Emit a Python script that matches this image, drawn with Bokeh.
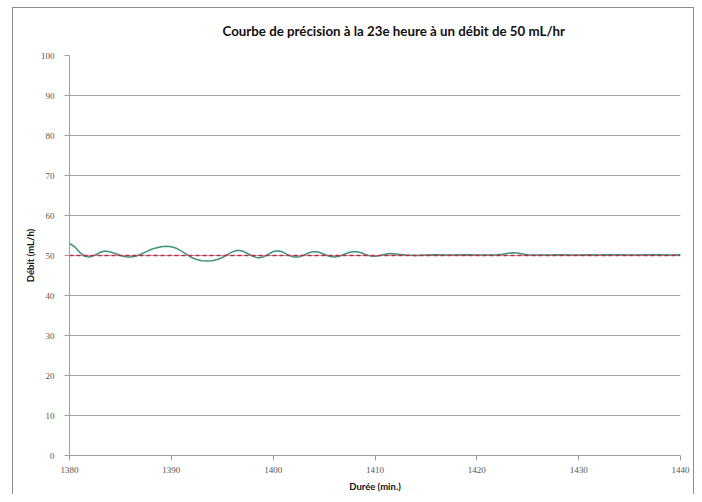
from bokeh.plotting import figure
from bokeh.models import Range1d, Title, FixedTicker, InlineStyleSheet
from bokeh.embed import file_html
from bokeh.resources import INLINE

# Data
minutes = [1380, 1380.5, 1381, 1381.5, 1382, 1382.5, 1383, 1383.5, 1384, 1384.5,
           1385, 1385.5, 1386, 1386.5, 1387, 1387.5, 1388, 1388.5, 1389, 1389.5,
           1390, 1390.5, 1391, 1391.5, 1392, 1392.5, 1393, 1393.5, 1394, 1394.5,
           1395, 1395.5, 1396, 1396.5, 1397, 1397.5, 1398, 1398.5, 1399, 1399.5,
           1400, 1400.5, 1401, 1401.5, 1402, 1402.5, 1403, 1403.5, 1404, 1404.5,
           1405, 1405.5, 1406, 1406.5, 1407, 1407.5, 1408, 1408.5, 1409, 1409.5,
           1410, 1410.5, 1411, 1411.5, 1412, 1413, 1414, 1415, 1416, 1417,
           1418, 1419, 1420, 1421, 1422, 1422.5, 1423, 1423.5, 1424, 1424.5,
           1425, 1426, 1427, 1428, 1429, 1430, 1431, 1432, 1433, 1434,
           1435, 1436, 1437, 1438, 1439, 1440]
debit = [53.0, 52.2, 50.8, 49.8, 49.6, 50.1, 50.8, 51.1, 50.9, 50.5,
         50.0, 49.7, 49.6, 49.8, 50.3, 50.9, 51.5, 51.9, 52.2, 52.3,
         52.2, 51.8, 51.1, 50.3, 49.5, 49.0, 48.7, 48.6, 48.7, 49.0,
         49.5, 50.2, 50.9, 51.3, 51.1, 50.5, 49.8, 49.4, 49.6, 50.3,
         51.0, 51.2, 50.8, 50.1, 49.6, 49.6, 50.1, 50.7, 51.0, 50.8,
         50.3, 49.8, 49.6, 49.8, 50.3, 50.8, 51.0, 50.8, 50.3, 49.9,
         49.8, 50.0, 50.3, 50.5, 50.4, 50.1, 50.0, 50.1, 50.2, 50.1,
         50.1, 50.2, 50.1, 50.1, 50.2, 50.3, 50.5, 50.7, 50.6, 50.4,
         50.2, 50.1, 50.1, 50.2, 50.1, 50.1, 50.2, 50.1, 50.2, 50.2,
         50.1, 50.1, 50.2, 50.2, 50.1, 50.2]
target_x = [1380, 1440]
target_y = [50, 50]

x_ticks = [1380, 1390, 1400, 1410, 1420, 1430, 1440]
y_ticks = [0, 10, 20, 30, 40, 50, 60, 70, 80, 90, 100]

title_text = "Courbe de précision à la 23e heure à un débit de 50 mL/hr"
x_label = "Durée (min.)"
y_label = "Débit (mL/h)"

p = figure(width=694, height=494, output_backend="svg", toolbar_location=None,
           x_range=Range1d(1380, 1440), y_range=Range1d(0, 100),
           min_border_left=69, min_border_right=14, min_border_top=55,
           min_border_bottom=37)
p.stylesheets = [InlineStyleSheet(css=(
    ":host { box-shadow: inset 12px 7px 0 0 #ffffff, "
    "inset 13px 8px 0 0 #8c8c8c, inset -1px 0 0 0 #8c8c8c; }"))]

t = Title(text=title_text, align="left", offset=153, text_font="Lato",
          text_font_size="13.3px", text_font_style="bold", text_color="#111111",
          standoff=34)
p.add_layout(t, "above")

p.outline_line_color = None
p.background_fill_color = "white"
p.border_fill_color = None

p.xgrid.grid_line_color = None
p.ygrid.grid_line_color = "#a6a6a6"
p.ygrid.grid_line_width = 1

for ax in (p.xaxis, p.yaxis):
    ax.axis_line_color = "#a0a0a0"
    ax.major_tick_line_color = "#a0a0a0"
    ax.minor_tick_line_color = None
    ax.major_tick_in = 0
    ax.major_tick_out = 5
    ax.major_label_text_font = "Liberation Serif"
    ax.major_label_text_font_size = "9px"
    ax.major_label_text_color = "#555555"
    ax.axis_label_text_font = "Lato"
    ax.axis_label_text_font_size = "9.5px"
    ax.axis_label_text_font_style = "bold"
    ax.axis_label_text_color = "#111111"

p.xaxis.ticker = FixedTicker(ticks=x_ticks)
p.yaxis.ticker = FixedTicker(ticks=y_ticks)
p.xaxis.axis_label = x_label
p.yaxis.axis_label = y_label
p.xaxis.major_label_standoff = 6
p.xaxis.axis_label_standoff = 5
p.yaxis.major_label_standoff = 10
p.yaxis.axis_label_standoff = 2

p.line(minutes, debit, line_color="#3f9477", line_width=1.5)
p.line(target_x, target_y, line_color="#d21f47", line_width=1.5, line_dash="4 3")

open("out.html", "w").write(file_html(p, INLINE))
